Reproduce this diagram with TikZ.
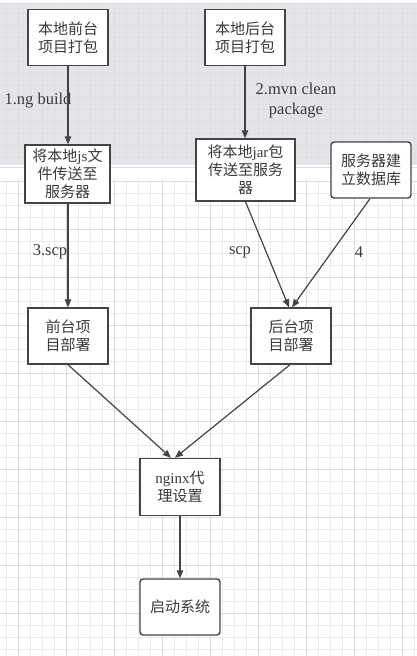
\documentclass[tikz,border=0pt]{standalone}
\usepackage{fontspec}
\setmainfont{Liberation Serif}
\newfontfamily\cjk{Noto Sans CJK SC}
\usetikzlibrary{arrows.meta}
\newcommand{\zh}[1]{{\cjk #1}}
\definecolor{bggray}{HTML}{E4E5E9}
\definecolor{bgline}{HTML}{DDDEE2}
\definecolor{gridminor}{HTML}{EBEBEB}
\definecolor{gridmajor}{HTML}{DCDCDC}
\definecolor{ink}{HTML}{444444}
\definecolor{txt}{HTML}{3A3A3A}
\tikzset{
  box/.style={draw=ink, line width=1.4pt, fill=white, inner sep=0pt, align=center,
    font=\fontsize{15}{18}\selectfont, text=txt},
  rbox/.style={box, rounded corners=3pt},
  arr/.style={draw=ink, line width=1.2pt, -{Triangle[length=8pt,width=6.5pt]}},
  lbl/.style={inner sep=0pt, font=\fontsize{16.5}{20}\selectfont, text=txt, align=center},
}
\begin{document}
\begin{tikzpicture}[x=1pt,y=-1pt]
\useasboundingbox (0,0) rectangle (417,656);
% backgrounds
\fill[white] (0,0) rectangle (417,656);
\fill[bggray] (0,3) rectangle (417,165);
\foreach \x in {6,18,...,414} \draw[bgline, line width=0.4pt] (\x,3) -- (\x,165);
\foreach \y in {13,25,...,163} \draw[bgline, line width=0.4pt] (0,\y) -- (417,\y);
\draw[gridmajor, line width=0.6pt] (0,3) -- (417,3);
\draw[gridmajor, line width=0.6pt] (0,167) -- (417,167);
\foreach \x in {6,18,...,414} \draw[gridminor, line width=0.6pt] (\x,180) -- (\x,656);
\foreach \y in {181,193,...,655} \draw[gridminor, line width=0.6pt] (0,\y) -- (417,\y);
\foreach \x in {18,66,...,414} \draw[gridmajor, line width=0.7pt] (\x,180) -- (\x,656);
\foreach \y in {181,229,...,655} \draw[gridmajor, line width=0.7pt] (0,\y) -- (417,\y);
% nodes
\node[box, minimum width=80pt, minimum height=56pt] (A) at (68,37.5) {\zh{本地前台}\\\zh{项目打包}};
\node[box, minimum width=80pt, minimum height=56pt] (B) at (245,37.5) {\zh{本地后台}\\\zh{项目打包}};
\node[box, minimum width=85pt, minimum height=58pt] (C) at (67.5,174) {\zh{将本地}js\zh{文}\\\zh{件传送至}\\\zh{服务器}};
\node[box, minimum width=99pt, minimum height=62pt] (D) at (245.5,170) {\zh{将本地}jar\zh{包}\\\zh{传送至服务}\\\zh{器}};
\node[rbox, minimum width=80pt, minimum height=56pt] (E) at (371,170) {\zh{服务器建}\\\zh{立数据库}};
\node[box, minimum width=80pt, minimum height=56pt] (F) at (68,336) {\zh{前台项}\\\zh{目部署}};
\node[box, minimum width=80pt, minimum height=56pt] (G) at (291,336) {\zh{后台项}\\\zh{目部署}};
\node[box, minimum width=80pt, minimum height=57pt] (H) at (180,487) {nginx\zh{代}\\\zh{理设置}};
\node[rbox, minimum width=80pt, minimum height=56pt] (I) at (180,607) {\zh{启动系统}};
% labels
\node[lbl] (l1) at (38,101) {1.ng build};
\node[lbl] (l2) at (296,101) {2.mvn clean\\package};
\node[lbl] (l3) at (50,252) {3.scp};
\node[lbl] (l4) at (240,252) {scp};
\node[lbl] (l5) at (359,252) {4};
% connectors
\draw[arr] (A.south) -- (A.south |- C.north);
\draw[arr] (B.south) -- (B.south |- D.north);
\draw[arr] ([xshift=0.5pt]C.south) -- (F.north);
\draw[arr] (D.south) -- ([xshift=-2pt]G.north);
\draw[arr] ([xshift=-1pt]E.south) -- ([xshift=1pt]G.north);
\draw[arr] (F.south) -- ([xshift=-9pt]H.north);
\draw[arr] ([xshift=-1pt]G.south) -- ([xshift=-5pt]H.north);
\draw[arr] (H.south) -- (I.north);
\end{tikzpicture}
\end{document}
